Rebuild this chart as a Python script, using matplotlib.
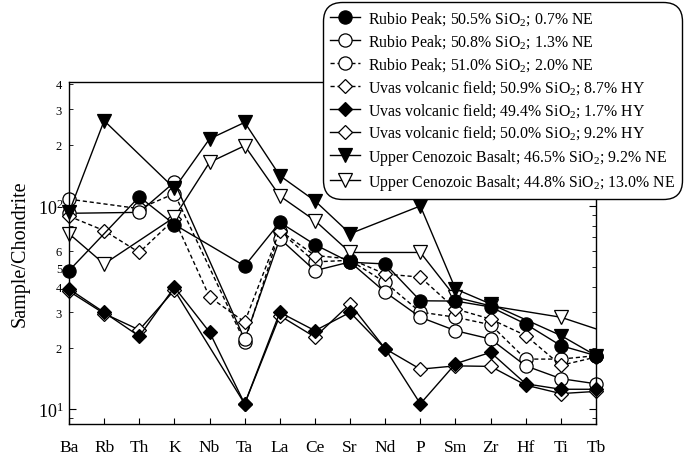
import numpy as np
import matplotlib.pyplot as plt
from matplotlib.ticker import LogLocator, FuncFormatter, FixedLocator

plt.rcParams['font.family'] = ['Liberation Serif', 'DejaVu Serif']
plt.rcParams['mathtext.fontset'] = 'custom'
plt.rcParams['mathtext.rm'] = 'Liberation Serif'
plt.rcParams['mathtext.it'] = 'Liberation Serif:italic'

# element order on the spider diagram
elements = ['Ba', 'Rb', 'Th', 'K', 'Nb', 'Ta', 'La', 'Ce', 'Sr', 'Nd', 'P', 'Sm', 'Zr', 'Hf', 'Ti', 'Tb']
nan = np.nan

# chondrite-normalised abundances (nan = not analysed)
rp_505 = [48, nan, 111, 81, nan, 50.6, 83, 64.5, 52.8, 51.8, 34.1, 34, 31.8, 26.2, 20.5, 18.3]
rp_508 = [92, nan, 93, 131, nan, 22, 69, 48, 53, 37.6, 28.3, 24.3, 22.1, 16.3, 14.1, 13.3]
rp_510 = [108, nan, 97, 115, nan, 21.4, 75, 53, 54, 42, 30, 28.3, 26, 17.6, 17.6, 18.3]
uv_509 = [89, 75.6, 59, 86, 35.6, 26.8, 75.6, 57, 54.8, 46.2, 44.6, 31.1, 27.7, 23, 16.4, 18]
uv_494 = [39, 29.9, 22.8, 39.8, 23.9, 10.6, 29.9, 24.3, 29.9, 19.8, 10.6, 16.7, 19, 13.3, 12.5, 12.5]
uv_500 = [38, 29.5, 24.5, 38.5, nan, 10.6, 28.8, 22.6, 32.9, 19.8, 15.7, 16.3, 16.2, 13.1, 11.9, 12.2]
ucb_465 = [93, 263, nan, 122, 214, 258, 141, 106, 73, nan, 100, 39, 32.9, nan, 23, 18.3]
ucb_448 = [73, 51.8, nan, 88, 164, 198, 112, 84.7, 59, nan, 59, 35.5, 32.2, nan, 28.3, 24.8]

labels = [
    'Rubio Peak; 50.5% SiO$_2$; 0.7% NE',
    'Rubio Peak; 50.8% SiO$_2$; 1.3% NE',
    'Rubio Peak; 51.0% SiO$_2$; 2.0% NE',
    'Uvas volcanic field; 50.9% SiO$_2$; 8.7% HY',
    'Uvas volcanic field; 49.4% SiO$_2$; 1.7% HY',
    'Uvas volcanic field; 50.0% SiO$_2$; 9.2% HY',
    'Upper Cenozoic Basalt; 46.5% SiO$_2$; 9.2% NE',
    'Upper Cenozoic Basalt; 44.8% SiO$_2$; 13.0% NE',
]
series = [rp_505, rp_508, rp_510, uv_509, uv_494, uv_500, ucb_465, ucb_448]
# marker, filled?, linestyle, marker size, zorder
styles = [
    ('o', True, '-', 9.5, 2.4),
    ('o', False, '-', 9.5, 2.1),
    ('o', False, '--', 9.5, 2.0),
    ('D', False, '--', 7, 2.2),
    ('D', True, '-', 7, 2.6),
    ('D', False, '-', 7, 2.3),
    ('v', True, '-', 9.5, 2.5),
    ('v', False, '-', 9.5, 2.2),
]

fig = plt.figure(figsize=(6.86, 4.56), dpi=100)
ax = fig.add_axes([0.1006, 0.068, 0.7682, 0.750])

x = np.arange(len(elements))
handles = []
for vals, lab, (m, filled, ls, ms, z) in zip(series, labels, styles):
    v = np.array(vals, dtype=float)
    ok = ~np.isnan(v)
    xs, vs = x[ok], v[ok]
    every = None
    if vals is ucb_448:
        every = list(range(len(xs) - 1))  # last point runs off the frame
    h, = ax.plot(xs, vs, color='black', lw=1.0, ls=ls,
                 dashes=(3, 2) if ls == '--' else (None, None),
                 marker=m, ms=ms, mec='black', mew=0.9,
                 mfc='black' if filled else 'white', markevery=every,
                 label=lab, clip_on=False, zorder=z)
    handles.append(h)

ax.set_yscale('log')
ax.set_xlim(0, 15)
ax.set_ylim(8.43, 408)
ax.set_xticks(x)
ax.set_xticklabels(elements, fontsize=12.5)
ax.tick_params(axis='x', direction='in', length=4, pad=11, top=False)

ax.yaxis.set_major_locator(FixedLocator([10, 100]))
ax.yaxis.set_major_formatter(FuncFormatter(lambda v, p: r'$10^{%d}$' % round(np.log10(v))))
ax.yaxis.set_minor_locator(LogLocator(base=10, subs=np.arange(2, 10), numticks=20))
minor_shown = {20, 30, 40, 50, 60, 200, 300, 400}
ax.yaxis.set_minor_formatter(FuncFormatter(
    lambda v, p: str(int(round(v / 10 ** np.floor(np.log10(v) + 1e-9)))) if int(round(v)) in minor_shown else ''))
ax.tick_params(axis='y', which='major', direction='in', length=5, right=True, labelsize=13, pad=4)
ax.tick_params(axis='y', which='minor', direction='in', length=3, right=True, labelsize=9, pad=5)
ax.set_ylabel('Sample/Chondrite', fontsize=14.5, labelpad=6)

for s in ax.spines.values():
    s.set_linewidth(1.0)

leg = fig.legend(handles=handles, loc='upper right', bbox_to_anchor=(0.994, 0.993),
                 fontsize=11.4, frameon=True, fancybox=True, edgecolor='black',
                 framealpha=1, handlelength=1.9, handletextpad=0.5,
                 labelspacing=0.32, borderpad=0.45, borderaxespad=0)
leg.get_frame().set_linewidth(1.0)
leg.get_frame().set_boxstyle('round', pad=0, rounding_size=1.2)

fig.savefig('out.png', dpi=100)
